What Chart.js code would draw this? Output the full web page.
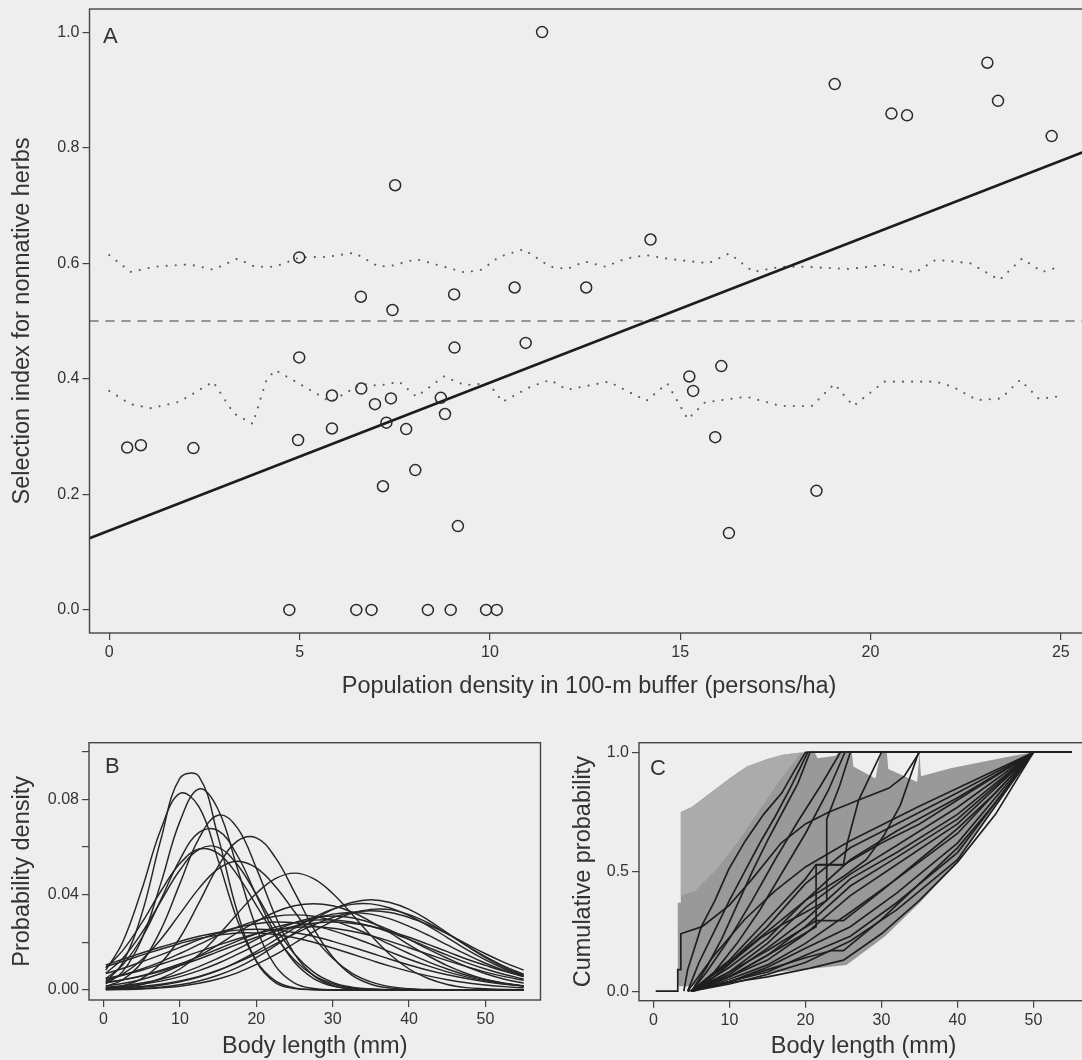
<!DOCTYPE html>
<html><head><meta charset="utf-8">
<script src="https://cdn.jsdelivr.net/npm/chart.js@4.4.1/dist/chart.umd.min.js"></script>
<style>
html,body{margin:0;padding:0;background:#eeeeee;overflow:hidden;width:1082px;height:1060px;}
canvas{position:absolute;}
#ca{left:0;top:0;} #cb{left:0;top:700px;} #cc{left:560px;top:700px;}
</style></head><body>
<canvas id="ca" width="1100" height="720"></canvas>
<canvas id="cb" width="560" height="360"></canvas>
<canvas id="cc" width="540" height="360"></canvas>
<script>
// ---------- Panel A data ----------
const densityTicks = [0, 5, 10, 15, 20, 25];
const selectionTicks = [0, 0.2, 0.4, 0.6, 0.8, 1.0];
const selX = [11.37,19.06,23.07,20.55,20.96,23.35,24.76,7.51,14.22,4.99,6.61,7.44,9.06,10.65,12.53,10.94,9.07,4.99,15.24,15.34,16.08,5.85,6.62,6.98,7.40,8.71,8.82,7.28,7.80,5.85,4.96,0.47,0.83,2.21,8.04,7.19,15.92,18.58,16.28,9.16,4.73,6.49,6.89,8.37,8.97,9.90,10.18];
const selY = [1.0,0.910,0.947,0.859,0.856,0.881,0.820,0.735,0.641,0.610,0.542,0.519,0.546,0.558,0.558,0.462,0.454,0.437,0.404,0.379,0.422,0.371,0.383,0.356,0.366,0.367,0.339,0.324,0.313,0.314,0.294,0.281,0.285,0.280,0.242,0.214,0.299,0.206,0.133,0.145,0,0,0,0,0,0,0];
const fitX = [-0.52, 25.73];
const fitY = [0.124, 0.796];
const neutralX = [-0.52, 25.73];
const neutralY = [0.5, 0.5];
const upperX = [0,0.56,1.19,2.1,2.73,3.37,3.82,4.36,5.0,5.72,6.44,7.08,7.44,8.07,8.79,9.34,9.79,10.24,10.88,11.31,11.58,12.03,12.49,13.03,13.57,14.11,14.75,15.74,16.29,16.92,17.64,18.19,19.45,20.36,21.17,21.72,22.62,23.39,23.98,24.52,24.97];
const upperY = [0.614,0.585,0.594,0.598,0.589,0.608,0.594,0.594,0.610,0.611,0.618,0.594,0.596,0.607,0.594,0.584,0.589,0.611,0.624,0.606,0.594,0.590,0.603,0.594,0.608,0.614,0.607,0.600,0.617,0.585,0.594,0.594,0.590,0.597,0.584,0.606,0.600,0.571,0.608,0.585,0.594];
const lowerX = [0,0.56,1.1,1.83,2.73,3.27,3.77,4.13,4.36,5.27,5.81,6.62,7.08,7.62,8.07,8.79,9.34,9.97,10.33,11.06,11.58,12.03,13.12,14.11,14.66,15.2,15.65,16.74,17.64,18.46,19.05,19.55,20.36,21.72,22.17,22.8,23.43,23.93,24.43,24.88];
const lowerY = [0.379,0.356,0.349,0.360,0.395,0.340,0.322,0.398,0.415,0.381,0.360,0.391,0.388,0.395,0.369,0.404,0.389,0.392,0.360,0.386,0.398,0.381,0.395,0.362,0.392,0.330,0.359,0.369,0.353,0.353,0.391,0.353,0.395,0.395,0.386,0.363,0.366,0.398,0.365,0.369];

// ---------- Panel B data ----------
const lengthTicks = [0, 10, 20, 30, 40, 50];
const probTicks = [0, 0.02, 0.04, 0.06, 0.08, 0.10];
const probLabels = ['0.00', '', '0.04', '', '0.08', ''];
const bodyX = [0.3,2.5,5,7.5,10,12.5,15,17.5,20,22.5,25,27.5,30,32.5,35,37.5,40,42.5,45,47.5,50,52.5,55];
const densityCurves = [
 [.0035,.0114,.0318,.063,.0888,.0895,.0642,.0329,.012,.0031,.0006,.0001,0,0,0,0,0,0,0,0,0,0,0],
 [.0083,.020,.042,.0673,.0824,.0768,.0545,.0295,.0122,.0038,.0009,.0002,0,0,0,0,0,0,0,0,0,0,0],
 [.0025,.0077,.0213,.0447,.0707,.0843,.0757,.0513,.0262,.0101,.0029,.0006,.0001,0,0,0,0,0,0,0,0,0,0],
 [.0015,.0043,.0115,.0252,.0446,.0636,.0733,.0681,.0511,.031,.0151,.006,.0019,.0005,.0001,0,0,0,0,0,0,0,0],
 [.0048,.0105,.0218,.0378,.0547,.0661,.0668,.0565,.0398,.0235,.0116,.0048,.0016,.0005,.0001,0,0,0,0,0,0,0,0],
 [.007,.0132,.0239,.0372,.0503,.059,.0598,.0526,.04,.0264,.0151,.0075,.0032,.0012,.0004,.0001,0,0,0,0,0,0,0],
 [.0093,.0165,.0281,.0414,.053,.0591,.0573,.0483,.0355,.0227,.0126,.0061,.0026,.0009,.0003,.0001,0,0,0,0,0,0,0],
 [.0006,.0018,.0048,.0112,.0219,.0366,.0518,.0624,.0638,.0555,.041,.0258,.0138,.0062,.0024,.0008,.0002,0,0,0,0,0,0],
 [.0035,.0067,.0127,.0213,.0319,.0426,.0508,.054,.0512,.0434,.0328,.0221,.0133,.0071,.0034,.0014,.0005,.0002,0,0,0,0,0],
 [.0005,.001,.0023,.0048,.0088,.0149,.0229,.0319,.0405,.0467,.049,.0467,.0405,.0319,.0229,.0149,.0088,.0048,.0023,.001,.0005,.0002,.0001],
 [.0002,.0003,.0006,.0012,.0022,.0038,.0062,.0094,.0136,.0186,.024,.0293,.0338,.0367,.0378,.0367,.0338,.0293,.024,.0186,.0136,.0094,.0062],
 [.0003,.0006,.0011,.002,.0034,.0054,.0081,.0118,.0161,.021,.0259,.0304,.0339,.0359,.0361,.0344,.0312,.0269,.022,.017,.0126,.0088,.0058],
 [.0017,.0027,.0044,.0069,.0102,.0143,.0189,.024,.0287,.0327,.0353,.0362,.0353,.0327,.0287,.024,.0189,.0143,.0102,.0069,.0044,.0027,.0017],
 [.0005,.0009,.0015,.0024,.0038,.0057,.0083,.0115,.0152,.0193,.0235,.0273,.0304,.0325,.0332,.0325,.0304,.0273,.0235,.0193,.0152,.0115,.0083],
 [.0009,.0014,.0024,.0037,.0056,.0081,.0112,.0149,.0189,.023,.0267,.0298,.0318,.0325,.0318,.0298,.0267,.023,.0189,.0149,.0112,.0081,.0056],
 [.0044,.0062,.0088,.0118,.0153,.0191,.0229,.0263,.0291,.0309,.0315,.0309,.0291,.0263,.0229,.0191,.0153,.0118,.0088,.0062,.0044,.0028,.0018],
 [.0031,.0043,.006,.0083,.0109,.014,.0172,.0205,.0236,.0263,.0282,.0293,.0294,.0285,.0267,.0242,.0212,.0179,.0146,.0115,.0088,.0065,.0046],
 [.0011,.0018,.0029,.0045,.0068,.0098,.0133,.0171,.0212,.0251,.0282,.0303,.031,.0303,.0282,.0251,.0212,.0171,.0133,.0098,.0068,.0045,.0029],
 [.0069,.009,.0118,.0147,.0179,.0211,.0239,.0262,.0278,.0285,.0282,.027,.0249,.0222,.0192,.016,.0129,.0101,.0076,.0055,.0039,.0026,.0017],
 [.0105,.0129,.0155,.018,.0204,.0225,.0241,.0251,.0255,.0251,.0241,.0225,.0204,.018,.0155,.0129,.0105,.0083,.0064,.0048,.0034,.0024,.0017],
 [.0001,.0002,.0004,.0009,.0016,.0028,.0046,.0072,.0107,.0148,.0196,.0245,.0289,.0322,.0338,.0337,.0316,.0281,.0236,.0187,.014,.0099,.0066],
 [.0049,.0063,.0083,.0108,.0134,.0161,.0188,.0214,.0236,.0253,.0262,.0265,.0259,.0246,.0228,.0204,.0177,.015,.0123,.0098,.0075,.0056,.0041],
 [.0098,.012,.0146,.0171,.0195,.0216,.023,.0239,.0239,.0233,.0219,.02,.0176,.0151,.0125,.01,.0078,.0059,.0043,.003,.0021,.0014,.0009],
 [.003,.0042,.0058,.0078,.0103,.013,.0161,.0191,.0221,.0247,.0267,.028,.0285,.028,.0267,.0247,.0221,.0191,.0161,.013,.0103,.0078,.0058]
];

// ---------- Panel C data ----------
const cumTicks = [0, 0.5, 1.0];
const bandUpper = [[3.2,0.02],[3.2,0.37],[3.6,0.37],[3.6,0.75],[5,0.77],[7.7,0.835],[10,0.89],[12.3,0.94],[15,0.972],[17,0.99],[20,1.0],[21.2,1.0],[21.6,0.975],[24,0.985],[24.3,1.0],[26.1,1.0],[26.3,0.94],[29.2,0.89],[29.9,1.0],[30.7,1.0],[30.9,0.93],[34.7,0.876],[35,1.0],[35.2,0.9],[39.1,0.933],[43.5,0.961],[47.9,0.989],[50,1.0]];
const bandLower = [[50,1.0],[47.7,0.898],[44.1,0.73],[39.5,0.521],[35,0.369],[30.4,0.228],[25.4,0.109],[21.4,0.096],[12.3,0.067],[4.5,0.02],[3.2,0.02]];
const bandLight = [[3.6,0.4],[3.6,0.75],[5,0.77],[7.7,0.835],[10,0.89],[12.3,0.94],[15,0.972],[17,0.99],[19.5,1.0],[17,0.9],[14,0.76],[11,0.62],[8,0.5],[5.5,0.42]];
const cdfCurves = [
 [[4,0],[4.5,0.09],[6.3,0.27],[8.1,0.38],[9.9,0.51],[12.1,0.63],[14.5,0.74],[16.9,0.83],[18.5,0.92],[20,1],[55,1]],
 [[4.5,0],[6,0.12],[8,0.25],[10,0.38],[12,0.5],[14,0.62],[16,0.73],[18,0.85],[20.3,1],[55,1]],
 [[5,0],[7,0.1],[9,0.22],[11,0.36],[13,0.5],[15,0.63],[17,0.75],[19,0.87],[20.6,1],[55,1]],
 [[5,0],[7,0.08],[10,0.22],[13,0.38],[16,0.55],[19,0.71],[22,0.86],[24.6,1],[55,1]],
 [[5,0],[8,0.08],[11,0.2],[14,0.34],[17,0.5],[20,0.66],[23,0.84],[25.2,1],[55,1]],
 [[5.5,0],[8,0.06],[11,0.14],[14,0.22],[17,0.28],[20,0.33],[22.8,0.38],[22.8,0.72],[24.5,0.86],[25.9,1],[55,1]],
 [[5,0],[10,0.13],[15,0.3],[20,0.47],[21.4,0.53],[25,0.53],[25.5,0.62],[27,0.8],[28.5,0.9],[30,1],[55,1]],
 [[5,0],[10,0.12],[15,0.25],[20,0.38],[25,0.48],[28,0.55],[30.3,0.65],[32.5,0.78],[34.9,1],[55,1]],
 [[4.5,0],[8,0.15],[12,0.3],[16,0.42],[20,0.52],[25.9,0.63],[34.7,0.77],[42,0.88],[50,1],[55,1]],
 [[5,0],[10,0.12],[15,0.27],[20,0.45],[25.9,0.6],[32,0.7],[40,0.83],[50,1],[55,1]],
 [[5,0],[10,0.1],[15,0.22],[20,0.38],[25.9,0.55],[32,0.67],[40,0.81],[50,1],[55,1]],
 [[5,0],[10,0.08],[15,0.2],[20,0.35],[25.9,0.49],[32,0.61],[40,0.77],[50,1],[55,1]],
 [[5,0],[10,0.07],[15,0.18],[20,0.3],[25.9,0.47],[32,0.58],[40,0.74],[50,1],[55,1]],
 [[5,0],[10,0.06],[15,0.15],[20,0.27],[25.9,0.44],[32,0.56],[40,0.72],[50,1],[55,1]],
 [[5,0],[10,0.06],[15,0.13],[20,0.24],[25.9,0.4],[32,0.53],[40,0.7],[50,1],[55,1]],
 [[5,0],[10,0.05],[15,0.11],[20,0.2],[25.9,0.33],[32,0.47],[40,0.66],[50,1],[55,1]],
 [[5,0],[10,0.04],[15,0.1],[20,0.18],[25.9,0.27],[32,0.41],[40,0.62],[50,1],[55,1]],
 [[5,0],[10,0.04],[15,0.08],[20,0.15],[25.9,0.23],[32,0.37],[40,0.58],[50,1],[55,1]],
 [[5,0],[10,0.03],[15,0.07],[20,0.12],[25.9,0.21],[32,0.34],[40,0.55],[50,1],[55,1]],
 [[4.5,0],[10,0.035],[15,0.06],[20.5,0.095],[25,0.13],[30,0.24],[35,0.38],[40,0.54],[45,0.74],[50,1],[55,1]],
 [[5,0],[10,0.08],[15,0.17],[21.4,0.295],[25,0.295],[30,0.42],[35,0.55],[40,0.68],[45,0.83],[50,1],[55,1]],
 [[5,0],[10,0.06],[15,0.15],[21.4,0.27],[21.4,0.528],[25,0.528],[30,0.62],[35,0.7],[40,0.8],[45,0.9],[50,1],[55,1]],
 [[5,0],[10,0.04],[15,0.09],[20,0.14],[23.5,0.17],[25,0.17],[30,0.3],[35,0.45],[40,0.6],[45,0.79],[50,1],[55,1]],
 [[0.3,0],[3.2,0],[3.2,0.09],[3.6,0.09],[3.6,0.24],[6.4,0.27],[10,0.36],[13,0.47],[16.8,0.62],[20,0.7],[23.1,0.75],[27,0.8],[31,0.85],[33,0.9],[35,1],[55,1]]
];

// ---------- common styling ----------
const FONT = '"Liberation Sans", Arial, Helvetica, sans-serif';
const INK = '#333333';
Chart.defaults.font.family = FONT;
Chart.defaults.color = INK;

const framePlugin = {
  id: 'frame',
  afterDraw(chart, args, o) {
    const {ctx, chartArea: a} = chart;
    ctx.save();
    ctx.strokeStyle = '#444';
    ctx.lineWidth = 1.4;
    ctx.strokeRect(a.left, a.top, a.right - a.left, a.bottom - a.top);
    ctx.fillStyle = INK;
    ctx.font = '22px ' + FONT;
    ctx.textBaseline = 'alphabetic';
    ctx.fillText(o.letter, a.left + o.dx, a.top + o.dy);
    ctx.restore();
  }
};

function axis(opts) {
  return {
    type: 'linear',
    min: opts.min, max: opts.max,
    afterBuildTicks: s => { s.ticks = opts.ticks.map(v => ({value: v})); },
    afterFit: s => {
      if (opts.width !== undefined) s.width = opts.width;
      if (opts.height !== undefined) s.height = opts.height;
      s.paddingTop = 0; s.paddingBottom = 0; s.paddingLeft = 0; s.paddingRight = 0;
    },
    grid: {drawOnChartArea: false, drawTicks: true, tickLength: 7, color: '#444', lineWidth: 1.2},
    border: {display: false},
    ticks: {autoSkip: false, maxRotation: 0, padding: 3, color: INK, font: {size: 16}, callback: opts.fmt},
    title: {display: true, text: opts.title, color: INK, font: {size: 23.5, lineHeight: 1}, padding: opts.titlePad}
  };
}

const base = {
  responsive: false,
  animation: false,
  devicePixelRatio: 1,
  events: [],
  plugins: {legend: {display: false}, tooltip: {enabled: false}}
};

const xy = (xs, ys) => xs.map((x, i) => ({x, y: ys[i]}));
const pts = arr => arr.map(p => ({x: p[0], y: p[1]}));

// ---------- Chart A ----------
new Chart(document.getElementById('ca'), {
  type: 'scatter',
  data: {datasets: [
    {data: xy(selX, selY), pointStyle: 'circle', pointRadius: 5.5, pointBorderWidth: 1.5, pointBorderColor: '#2a2a2a', pointBackgroundColor: 'rgba(0,0,0,0)', showLine: false, order: 0},
    {data: xy(fitX, fitY), showLine: true, pointRadius: 0, borderColor: '#1c1c1c', borderWidth: 2.6, order: 1},
    {data: xy(neutralX, neutralY), showLine: true, pointRadius: 0, borderColor: '#777', borderWidth: 1.4, borderDash: [9, 7], order: 2},
    {data: xy(upperX, upperY), showLine: true, pointRadius: 0, borderColor: '#5e5e5e', borderWidth: 2.1, borderDash: [0.1, 9], borderCapStyle: 'round', order: 3},
    {data: xy(lowerX, lowerY), showLine: true, pointRadius: 0, borderColor: '#5e5e5e', borderWidth: 2.1, borderDash: [0.1, 9], borderCapStyle: 'round', order: 3}
  ]},
  options: Object.assign({}, base, {
    layout: {padding: {left: 0, top: 9, right: 11.4, bottom: 0}},
    plugins: Object.assign({}, base.plugins, {frame: {letter: 'A', dx: 13.5, dy: 34}}),
    scales: {
      x: axis({min: -0.52, max: 25.73, ticks: densityTicks, fmt: v => String(v), title: 'Population density in 100-m buffer (persons/ha)', titlePad: {top: 0, bottom: 22}, height: 87}),
      y: axis({min: -0.04, max: 1.04, ticks: selectionTicks, fmt: v => v.toFixed(1), title: 'Selection index for nonnative herbs', titlePad: {top: 11, bottom: 0}, width: 89.5})
    }
  }),
  plugins: [framePlugin]
});

// ---------- Chart B ----------
new Chart(document.getElementById('cb'), {
  type: 'scatter',
  data: {datasets: densityCurves.map(c => ({
    data: xy(bodyX, c), showLine: true, pointRadius: 0, borderColor: '#262626', borderWidth: 1.45, tension: 0.4
  }))},
  options: Object.assign({}, base, {
    layout: {padding: {left: 0, top: 42.7, right: 19.5, bottom: 0}},
    plugins: Object.assign({}, base.plugins, {frame: {letter: 'B', dx: 16, dy: 30.5}}),
    scales: {
      x: axis({min: -1.9, max: 57.2, ticks: lengthTicks, fmt: v => String(v), title: 'Body length (mm)', titlePad: {top: 0, bottom: 1.4}, height: 60}),
      y: axis({min: -0.0042, max: 0.1037, ticks: probTicks, fmt: (v, i) => probLabels[i], title: 'Probability density', titlePad: {top: 11, bottom: 0}, width: 89})
    }
  }),
  plugins: [framePlugin]
});

// ---------- Chart C ----------
const bandShape = pts(bandUpper.concat(bandLower));
new Chart(document.getElementById('cc'), {
  type: 'scatter',
  data: {datasets: [
    {data: bandShape, showLine: true, pointRadius: 0, borderWidth: 0, borderColor: 'rgba(0,0,0,0)', backgroundColor: '#999999', fill: 'shape', order: 11},
    {data: pts(bandLight), showLine: true, pointRadius: 0, borderWidth: 0, borderColor: 'rgba(0,0,0,0)', backgroundColor: '#ababab', fill: 'shape', order: 10}
  ].concat(cdfCurves.map(c => ({
    data: pts(c), showLine: true, pointRadius: 0, borderColor: '#1f1f1f', borderWidth: 1.7, order: 0
  })))},
  options: Object.assign({}, base, {
    layout: {padding: {left: 0, top: 42.7, right: 11.8, bottom: 0}},
    plugins: Object.assign({}, base.plugins, {frame: {letter: 'C', dx: 11, dy: 32.5}, filler: {propagate: false}}),
    scales: {
      x: axis({min: -1.9, max: 57.2, ticks: lengthTicks, fmt: v => String(v), title: 'Body length (mm)', titlePad: {top: 0, bottom: 1.4}, height: 59.3}),
      y: axis({min: -0.04, max: 1.04, ticks: cumTicks, fmt: v => v.toFixed(1), title: 'Cumulative probability', titlePad: {top: 12, bottom: 0}, width: 79})
    }
  }),
  plugins: [framePlugin]
});
</script></body></html>
